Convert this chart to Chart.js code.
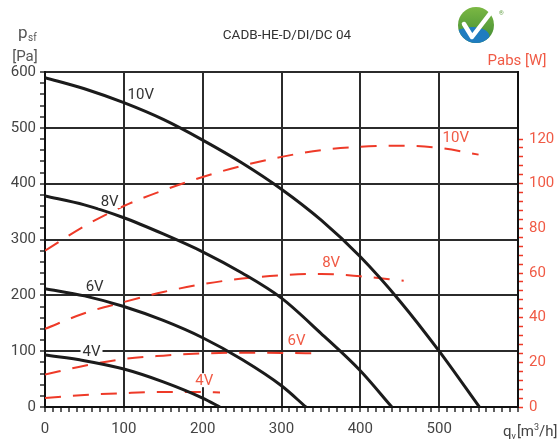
<!DOCTYPE html>
<html>
<head>
<meta charset="utf-8">
<script src="https://cdn.jsdelivr.net/npm/chart.js@4.4.1/dist/chart.umd.min.js"></script>
<style>
  html, body { margin: 0; padding: 0; background: #fff; }
  #wrap { width: 559px; height: 439px; }
</style>
</head>
<body>
<div id="wrap"><canvas id="c" width="559" height="439"></canvas></div>
<script>
// ---------- data ----------
const chartTitle = 'CADB-HE-D/DI/DC 04';
const voltages = ['10V', '8V', '6V', '4V'];

// static pressure p_sf [Pa] vs airflow q_v [m3/h]
const flow10 = [0, 50, 100, 150, 200, 250, 300, 350, 400, 450, 500, 551];
const psf10  = [590, 570, 545, 515, 478, 437, 390, 335, 269, 190, 100, 0];
const flow8  = [0, 50, 100, 150, 200, 250, 300, 350, 400, 440];
const psf8   = [378, 362, 339, 310, 278, 240, 195, 132, 65, 0];
const flow6  = [0, 50, 100, 150, 200, 250, 300, 331];
const psf6   = [212, 199, 180, 155, 124, 85, 38, 0];
const flow4  = [0, 50, 100, 150, 200, 222];
const psf4   = [93, 83, 68, 45, 16, 0];

// absorbed power Pabs [W] vs airflow
const pFlow10 = [0, 50, 100, 150, 200, 250, 300, 350, 400, 450, 500, 550];
const pabs10  = [70, 81, 90, 97, 103, 108, 112, 115, 116.5, 117, 116, 113];
const pFlow8  = [0, 50, 100, 150, 200, 250, 300, 350, 400, 455];
const pabs8   = [35, 42, 47, 51.5, 55, 57.5, 59, 59.6, 58.5, 56.5];
const pFlow6  = [0, 50, 100, 150, 200, 250, 300, 345];
const pabs6   = [14.5, 18.5, 21.5, 23, 24, 24.3, 24.2, 24];
const pFlow4  = [0, 50, 100, 150, 200, 222];
const pabs4   = [4, 5.4, 6.2, 6.7, 6.7, 6.5];

// axis ranges / ticks
const xMin = 0, xMax = 600, xMajor = 100, xMinor = 10;
const yMin = 0, yMax = 600, yMajor = 100, yMinor = 20;
const y1Min = 0, y1Max = 150, y1Major = 20, y1Minor = 4, y1LabelMax = 120;

// curve label anchors (data coordinates)
const pressLabelX = [121.5, 82, 63, 59];
const pressLabelY = [561, 369, 217, 100];
const powerLabelX = [521, 363, 319, 202];
const powerLabelY = [121, 65, 30, 12];

// ---------- build ----------
const BLACK = '#1b1b1b';
const RED = '#ee3a28';
const RED_TEXT = '#f05a45';
const GRID = '#2b2b2b';
const FONT = 'Roboto';

const pts = (xs, ys) => xs.map((x, i) => ({ x: x, y: ys[i] }));

const pressSeries = [[flow10, psf10], [flow8, psf8], [flow6, psf6], [flow4, psf4]];
const powerSeries = [[pFlow10, pabs10], [pFlow8, pabs8], [pFlow6, pabs6], [pFlow4, pabs4]];

const datasets = [];
pressSeries.forEach((s, i) => datasets.push({
  label: 'p_sf ' + voltages[i], data: pts(s[0], s[1]), yAxisID: 'y',
  borderColor: BLACK, borderWidth: 3, pointRadius: 0, fill: false,
  cubicInterpolationMode: 'monotone'
}));
powerSeries.forEach((s, i) => datasets.push({
  label: 'Pabs ' + voltages[i], data: pts(s[0], s[1]), yAxisID: 'y1',
  borderColor: RED, borderWidth: 2, borderDash: [16, 12], pointRadius: 0, fill: false,
  cubicInterpolationMode: 'monotone'
}));

const isMult = (v, m) => Math.abs(v / m - Math.round(v / m)) < 1e-6;

const decor = {
  id: 'decor',
  afterDatasetsDraw(chart) {
    const ctx = chart.ctx;
    const sx = chart.scales.x, sy = chart.scales.y, sy1 = chart.scales.y1;
    ctx.save();
    ctx.font = '15px ' + FONT;
    ctx.textAlign = 'center';
    ctx.textBaseline = 'middle';
    const drawLbl = (txt, px, py, color) => {
      const w = ctx.measureText(txt).width;
      ctx.fillStyle = '#fff';
      ctx.fillRect(px - w / 2 - 2, py - 7, w + 4, 14);
      ctx.fillStyle = color;
      ctx.fillText(txt, px, py + 1);
    };
    voltages.forEach((v, i) => {
      drawLbl(v, sx.getPixelForValue(pressLabelX[i]), sy.getPixelForValue(pressLabelY[i]), '#333');
      drawLbl(v, sx.getPixelForValue(powerLabelX[i]), sy1.getPixelForValue(powerLabelY[i]), RED_TEXT);
    });
    ctx.restore();
  },
  afterDraw(chart) {
    const ctx = chart.ctx;
    ctx.save();
    // title
    ctx.fillStyle = '#333';
    ctx.font = '13.5px ' + FONT;
    ctx.textAlign = 'center';
    ctx.textBaseline = 'middle';
    ctx.fillText(chartTitle, 287, 36);

    // left axis title p_sf [Pa]
    ctx.fillStyle = '#555';
    ctx.textAlign = 'left';
    ctx.textBaseline = 'alphabetic';
    ctx.font = '17px ' + FONT;
    ctx.fillText('p', 18, 38);
    ctx.font = '10px ' + FONT;
    ctx.fillText('sf', 28, 41);
    ctx.font = '15px ' + FONT;
    ctx.textAlign = 'center';
    ctx.textBaseline = 'middle';
    ctx.fillText('[Pa]', 25, 57);

    // right axis title
    ctx.fillStyle = RED_TEXT;
    ctx.font = '15px ' + FONT;
    ctx.fillText('Pabs [W]', 517, 61);

    // x axis title q_v [m3/h]
    ctx.fillStyle = '#444';
    ctx.textAlign = 'left';
    ctx.textBaseline = 'alphabetic';
    ctx.font = '15px ' + FONT;
    let x = 503;
    ctx.fillText('q', x, 436); x += ctx.measureText('q').width;
    ctx.font = '9px ' + FONT;
    ctx.fillText('v', x, 439); x += ctx.measureText('v').width + 1;
    ctx.font = '15px ' + FONT;
    ctx.fillText('[m', x, 436); x += ctx.measureText('[m').width;
    ctx.font = '9px ' + FONT;
    ctx.fillText('3', x, 430); x += ctx.measureText('3').width;
    ctx.font = '15px ' + FONT;
    ctx.fillText('/h]', x, 436);

    // logo
    const cx = 476, cy = 25, r = 18;
    ctx.beginPath(); ctx.arc(cx, cy, r, 0, Math.PI * 2); ctx.closePath();
    ctx.save();
    ctx.clip();
    const g = ctx.createLinearGradient(cx, cy - r, cx, cy + r);
    g.addColorStop(0, '#7bb843'); g.addColorStop(1, '#3f8a33');
    ctx.fillStyle = g;
    ctx.fillRect(cx - r, cy - r, 2 * r, 2 * r);
    ctx.fillStyle = '#1f7cc0';
    ctx.beginPath();
    ctx.ellipse(cx - 10, cy + 16, 24, 13, -0.25, 0, Math.PI * 2);
    ctx.fill();
    ctx.restore();
    ctx.strokeStyle = '#fff';
    ctx.lineWidth = 4.5;
    ctx.lineCap = 'round';
    ctx.lineJoin = 'round';
    ctx.beginPath();
    ctx.moveTo(464, 24); ctx.lineTo(472, 37); ctx.lineTo(492, 11);
    ctx.stroke();
    ctx.fillStyle = '#5a9a3a';
    ctx.font = '6px ' + FONT;
    ctx.fillText('®', 499, 15);
    ctx.restore();
  }
};

Chart.defaults.font.family = FONT;

new Chart(document.getElementById('c'), {
  type: 'line',
  data: { datasets: datasets },
  plugins: [decor],
  options: {
    responsive: false,
    animation: false,
    events: [],
    layout: { padding: { left: 0, right: 0, top: 72, bottom: 0 } },
    plugins: { legend: { display: false }, tooltip: { enabled: false }, title: { display: false } },
    scales: {
      x: {
        type: 'linear', position: 'bottom', min: xMin, max: xMax,
        afterFit: s => { s.height = 32; },
        border: { display: true, color: '#111', width: 2 },
        grid: {
          color: c => (c.tick && isMult(c.tick.value, xMajor)) ? GRID : 'rgba(0,0,0,0)',
          lineWidth: 2, tickColor: GRID, tickWidth: 1.5, tickLength: 5
        },
        ticks: {
          stepSize: xMinor, autoSkip: false, maxRotation: 0, minRotation: 0, padding: 8,
          color: '#444', font: { size: 15, family: FONT },
          callback: v => (isMult(v, xMajor) && v < xMax) ? String(v) : ''
        }
      },
      y: {
        type: 'linear', position: 'left', min: yMin, max: yMax,
        afterFit: s => { s.width = 45; },
        border: { display: true, color: '#111', width: 2 },
        grid: {
          color: c => (c.tick && isMult(c.tick.value, yMajor)) ? GRID : 'rgba(0,0,0,0)',
          lineWidth: 2, tickColor: GRID, tickWidth: 1.5, tickLength: 5
        },
        ticks: {
          stepSize: yMinor, autoSkip: false, padding: 4,
          color: '#444', font: { size: 15, family: FONT },
          callback: v => isMult(v, yMajor) ? String(v) : ''
        }
      },
      y1: {
        type: 'linear', position: 'right', min: y1Min, max: y1Max,
        afterFit: s => { s.width = 41; },
        border: { display: true, color: '#111', width: 2 },
        grid: {
          drawOnChartArea: false,
          color: 'rgba(0,0,0,0)',
          tickColor: c => (c.tick && c.tick.value <= y1LabelMax) ? RED : 'rgba(0,0,0,0)',
          tickWidth: 1.5, tickLength: 5
        },
        ticks: {
          stepSize: y1Minor, autoSkip: false, padding: 6,
          color: RED_TEXT, font: { size: 15, family: FONT },
          callback: v => (isMult(v, y1Major) && v <= y1LabelMax) ? String(v) : ''
        }
      }
    }
  }
});
</script>
</body>
</html>
